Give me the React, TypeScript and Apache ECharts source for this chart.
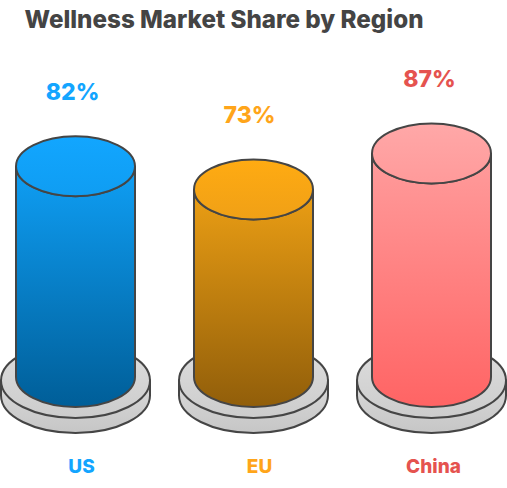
import React, { useEffect, useRef } from "react";
import * as echarts from "echarts";

const titleText = "Wellness Market Share by Region";
const categories = ["US", "EU", "China"];
const shareValues = [82, 73, 87];
const labelColors = ["#13a5ff", "#ffa51a", "#e5534f"];
const capColors = [["#12a6ff", "#0f9df2"], ["#ffab12", "#f0a016"], ["#ffa8a8", "#ff9a9a"]];
const bodyColors = [["#0f9ff5", "#005e98"], ["#ec9f14", "#915e0a"], ["#ff9c9c", "#ff6464"]];
const categoryNudge = [6, 6, 2];
const valueNudge = [-3, -4, -2];

const FONT = "Inter, 'Noto Sans', sans-serif";
const STROKE = "#454545";
const RX = 59.5;
const RY = 30;
const BASE_RX = 74.5;
const BASE_RY = 37.5;

const vGrad = (a: string, b: string) =>
  new echarts.graphic.LinearGradient(0, 0, 0, 1, [
    { offset: 0, color: a },
    { offset: 1, color: b },
  ]);

function renderItem(params: any, api: any) {
  const i = api.value(0);
  const v = api.value(1);
  const [cx, y0] = api.coord([i, 0]);
  const [, yt] = api.coord([i, v]);
  const top1 = y0 + 3.5;
  const top2 = y0 + 18.5;
  const stroke = { stroke: STROKE, lineWidth: 2 };
  const sidePath =
    `M${cx - BASE_RX} ${top1}L${cx - BASE_RX} ${top2}` +
    `A${BASE_RX} ${BASE_RY} 0 0 0 ${cx + BASE_RX} ${top2}` +
    `L${cx + BASE_RX} ${top1}Z`;
  const bodyPath =
    `M${cx - RX} ${yt}L${cx - RX} ${y0}` +
    `A${RX} ${RY} 0 0 0 ${cx + RX} ${y0}` +
    `L${cx + RX} ${yt}A${RX} ${RY} 0 0 1 ${cx - RX} ${yt}Z`;
  return {
    type: "group",
    children: [
      { type: "path", shape: { pathData: sidePath }, style: { fill: vGrad("#dadada", "#c6c6c6"), ...stroke } },
      { type: "ellipse", shape: { cx, cy: top1, rx: BASE_RX, ry: BASE_RY }, style: { fill: vGrad("#dedede", "#cccccc"), ...stroke } },
      { type: "path", shape: { pathData: bodyPath }, style: { fill: vGrad(bodyColors[i][0], bodyColors[i][1]), ...stroke } },
      { type: "ellipse", shape: { cx, cy: yt, rx: RX, ry: RY }, style: { fill: vGrad(capColors[i][0], capColors[i][1]), ...stroke } },
      {
        type: "text",
        style: {
          x: cx + valueNudge[i], y: yt - 74, text: `${v}%`, fill: labelColors[i],
          font: `800 23px ${FONT}`, align: "center", verticalAlign: "middle",
        },
      },
      {
        type: "text",
        style: {
          x: cx + categoryNudge[i], y: 466, text: categories[i], fill: labelColors[i],
          font: `800 19px ${FONT}`, align: "center", verticalAlign: "middle",
        },
      },
    ],
  };
}

export default function App() {
  const ref = useRef<HTMLDivElement>(null);
  useEffect(() => {
    document.body.style.margin = "0";
    const chart = echarts.init(ref.current!, undefined, { renderer: "svg" });
    chart.setOption({
      animation: false,
      backgroundColor: "#ffffff",
      title: {
        text: titleText,
        left: 219,
        top: 2,
        textAlign: "center",
        textStyle: { fontFamily: FONT, fontWeight: 800, fontSize: 24.2, color: "#444444" },
      },
      grid: { left: 75.5, width: 356, top: 120, height: 257 },
      xAxis: { type: "category", data: categories, boundaryGap: false, show: false },
      yAxis: { type: "value", min: 0, max: 100, show: false },
      series: [
        {
          type: "custom",
          clip: false,
          renderItem,
          encode: { x: 0, y: 1 },
          data: shareValues.map((v, i) => [i, v]),
        },
      ],
    });
    return () => chart.dispose();
  }, []);
  return <div ref={ref} style={{ width: 507, height: 488 }} />;
}
